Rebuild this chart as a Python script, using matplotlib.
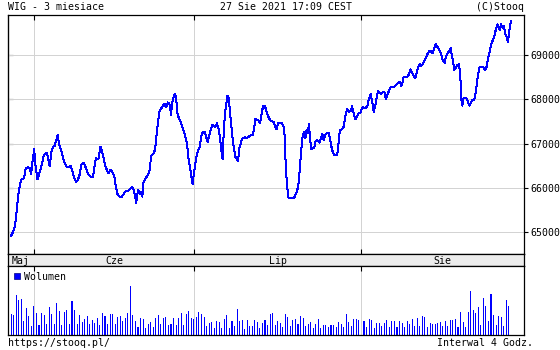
import matplotlib
matplotlib.use("Agg")
import matplotlib.pyplot as plt
from matplotlib.patches import Patch

plt.rcParams['font.family'] = ['DejaVu Sans Mono']
plt.rcParams['font.size'] = 7.1

# WIG, 4h bars, 27 May - 27 Aug 2021 (x = bar number)
line_t = [0, 0.8, 1.5, 2.0, 2.5, 3.1, 3.8, 4.3, 5.1, 5.8, 6.7, 7.4, 7.9, 8.4, 9.1, 9.6,
          10.4, 10.9, 11.5, 12.2, 12.9, 13.7, 14.2, 14.7, 15.2, 15.9, 16.5, 17.2, 17.8,
          18.4, 18.9, 19.6, 20.2, 21.0, 21.8, 22.7, 23.5, 24.1, 24.8, 25.5, 26.1, 26.9,
          27.7, 28.7, 29.5, 30.3, 31.4, 32.3, 33.0, 33.5, 34.4, 35.2, 35.8, 36.5, 37.1,
          37.8, 38.3, 39.1, 39.8, 40.7, 41.3, 42.0, 42.9, 43.7, 44.6, 45.3, 46.2, 46.9,
          47.5, 48.1, 48.7, 49.3, 50.0, 50.7, 51.2, 51.7, 52.1, 52.8, 53.4, 54.2, 54.7,
          55.1, 56.0, 56.7, 57.1, 57.8, 58.4, 59.2, 59.7, 60.4, 61.0, 61.8, 62.5, 63.0,
          63.4, 64.1, 64.6, 65.0, 65.5, 66.1, 66.9, 67.6, 68.2, 68.7, 69.3, 69.8, 70.4,
          70.9, 71.5, 72.0, 72.6, 73.1, 73.6, 74.3, 74.9, 75.6, 76.3, 76.8, 77.4, 78.1,
          78.7, 79.3, 79.8, 80.4, 81.1, 81.8, 82.4, 82.8, 83.3, 83.7, 84.1, 84.6, 85.2,
          85.8, 86.2, 86.7, 87.3, 87.8, 88.3, 88.9, 89.4, 89.9, 90.6, 91.2, 92.0, 92.8,
          93.4, 94.2, 95.2, 95.7, 96.2, 96.9, 97.5, 98.0, 98.5, 99.2, 100.0, 100.7, 101.3,
          102.0, 102.8, 103.4, 104.1, 104.6, 105.2, 106.0, 106.7, 107.4, 107.8, 108.0,
          108.4, 108.8, 109.3, 110.1, 110.9, 111.7, 112.3, 112.9, 113.4, 113.9, 114.3,
          114.8, 115.5, 115.9, 116.4, 116.9, 117.3, 117.8, 118.2, 118.9, 119.4, 119.9,
          120.5, 121.0, 121.5, 122.0, 122.6, 123.1, 123.7, 124.4, 125.2, 125.7, 126.3,
          126.8, 127.4, 128.2, 128.7, 129.1, 129.5, 130.3, 131.0, 131.4, 131.9, 132.4,
          133.1, 133.7, 134.3, 134.9, 135.6, 136.2, 136.9, 137.7, 138.2, 138.7, 139.5,
          140.3, 140.9, 141.6, 142.2, 142.8, 143.3, 143.8, 144.5, 145.2, 145.8, 146.5,
          147.1, 147.6, 148.2, 148.8, 149.5, 150.3, 150.9, 151.6, 152.2, 152.8, 153.3,
          153.7, 154.2, 154.6, 155.4, 156.0, 156.7, 157.4, 158.0, 158.5, 159.2, 159.7,
          160.4, 161.0, 161.5, 162.1, 162.7, 163.4, 164.1, 164.7, 165.4, 166.0, 166.5,
          167.3, 167.8, 168.5, 169.2, 169.7, 170.2, 170.8, 171.3, 171.9, 172.6, 173.1,
          173.6, 174.1, 174.5, 175.2, 175.7, 176.3, 176.8, 177.1, 177.3, 177.7, 178.2,
          178.9, 179.5, 180.0, 180.4, 181.0, 181.6, 182.3, 182.8, 183.4, 183.9, 184.5,
          185.2, 185.9, 186.7, 187.3, 187.8, 188.5, 189.1, 189.8, 190.4, 190.9, 191.5,
          192.0, 192.5, 193.0, 193.6, 194.1, 194.6, 195.2, 195.6, 196.0, 196.5, 196.9]
line_v = [64910, 65000, 65120, 65350, 65650, 65950, 66140, 66200, 66210, 66440, 66460, 66450,
          66310, 66570, 66870, 66520, 66190, 66270, 66400, 66550, 66740, 66780, 66780, 66630,
          66490, 66820, 66920, 66950, 67080, 67190, 66990, 66870, 66740, 66570, 66480, 66470,
          66490, 66400, 66240, 66140, 66150, 66270, 66520, 66570, 66440, 66310, 66250, 66240,
          66550, 66670, 66640, 66930, 66820, 66670, 66490, 66400, 66330, 66400, 66370, 66240,
          66010, 65840, 65790, 65800, 65880, 65930, 65930, 65980, 66010, 65980, 65840, 65660,
          65950, 65860, 65900, 65800, 66120, 66190, 66250, 66330, 66420, 66720, 66760, 66860,
          67080, 67460, 67720, 67800, 67840, 67900, 67820, 67930, 67880, 67650, 67910, 68080,
          68120, 68050, 67690, 67570, 67470, 67350, 67250, 67130, 67000, 66700, 66480, 66290,
          66080, 66330, 66550, 66740, 66830, 66930, 67160, 67270, 67260, 67160, 67040, 67190,
          67330, 67420, 67400, 67370, 67460, 67310, 67080, 66860, 66650, 67190, 67570, 67840,
          68080, 68020, 67720, 67420, 67080, 66890, 66700, 66650, 66610, 66890, 67040, 67120,
          67140, 67130, 67150, 67180, 67190, 67350, 67550, 67540, 67520, 67460, 67610, 67840,
          67840, 67720, 67610, 67530, 67500, 67490, 67380, 67320, 67470, 67470, 67460, 67380,
          67120, 66720, 66290, 65990, 65760, 65760, 65760, 65790, 65880, 65990, 66180, 66590,
          66860, 67160, 67270, 67120, 67310, 67230, 67440, 67080, 66870, 66890, 66900, 67040,
          67080, 67060, 67020, 67120, 67220, 67080, 67190, 67240, 67230, 67080, 66890, 66790,
          66740, 66740, 66820, 67120, 67310, 67320, 67380, 67530, 67700, 67780, 67720, 67730,
          67840, 67690, 67550, 67610, 67690, 67700, 67800, 67820, 67800, 67850, 68000, 68120,
          67950, 67720, 67820, 67980, 68190, 68150, 68130, 68170, 68150, 68000, 68100, 68190,
          68270, 68270, 68290, 68330, 68360, 68400, 68380, 68300, 68400, 68500, 68500, 68510,
          68570, 68680, 68600, 68530, 68480, 68600, 68740, 68800, 68750, 68800, 68860, 68940,
          69040, 69090, 69090, 69040, 69140, 69250, 69200, 69140, 69060, 68940, 68860, 68830,
          68980, 69050, 69090, 69160, 68980, 68860, 68670, 68710, 68770, 68800, 68640, 68320,
          68020, 67860, 68020, 68030, 68020, 67930, 67860, 67910, 67990, 67980, 68100, 68330,
          68570, 68720, 68740, 68730, 68670, 68740, 68930, 69090, 69240, 69350, 69450, 69580,
          69700, 69640, 69560, 69700, 69610, 69670, 69490, 69410, 69300, 69450, 69670, 69770]

# volume per bar (arbitrary units)
vol_h = [62, 60, 120, 105, 108, 42, 80, 57, 27, 87,
         67, 30, 67, 60, 34, 84, 64, 34, 96, 72,
         30, 70, 75, 33, 102, 74, 32, 59, 40, 48,
         57, 32, 44, 37, 52, 30, 65, 57, 32, 62,
         62, 32, 55, 57, 42, 52, 65, 147, 60, 42,
         24, 50, 48, 20, 32, 39, 24, 52, 60, 34,
         50, 54, 30, 34, 50, 30, 50, 65, 30, 62,
         72, 50, 47, 54, 69, 64, 54, 27, 36, 39,
         20, 41, 40, 22, 47, 60, 20, 42, 27, 78,
         42, 44, 18, 44, 27, 26, 44, 38, 22, 36,
         44, 30, 64, 67, 30, 42,
         37, 24, 64, 54, 27, 45, 47, 32, 57, 50,
         27, 34, 40, 20, 34, 48, 20, 30, 30, 24,
         30, 30, 24, 39, 34, 24, 63, 39, 27, 47,
         47, 44, 42, 42, 24, 48, 46, 20, 35, 37,
         27, 36, 45, 24, 42, 42, 24, 42, 35, 24,
         42, 34, 47, 27, 50, 27, 57, 55, 24, 36,
         34, 32, 37, 40, 27, 42, 27, 44, 45, 47,
         24, 69, 38, 24, 69, 132, 74, 65, 85, 29,
         111, 88, 42, 123, 59, 30, 56, 54, 27, 105,
         87]

month_names = ["Maj", "Cze", "Lip", "Sie"]
month_start = [9, 72, 138]
price_ticks = [65000, 66000, 67000, 68000, 69000]

x_lo, x_hi = -1.2, 202
blue = '#0000ff'
grid_c = '#d3d3d3'
px = 0.72  # one pixel in points at 100 dpi

W, H = 560, 350
fig = plt.figure(figsize=(W / 100, H / 100), dpi=100)


def box(l, t, r, b):
    return [l / W, 1 - b / H, (r - l) / W, (b - t) / H]


# price panel
ax = fig.add_axes(box(8, 15, 524, 254))
ax.plot(line_t, line_v, color=blue, lw=px, antialiased=False)
ax.set_xlim(x_lo, x_hi)
ax.set_ylim(64500, 69910)
ax.set_xticks(month_start)
ax.set_yticks(price_ticks)
ax.grid(True, color=grid_c, lw=px, antialiased=False)
ax.tick_params(axis='x', direction='in', top=True, bottom=True,
               labelbottom=False, length=3.5, width=0.8)
ax.tick_params(axis='y', direction='out', left=False, right=True,
               labelleft=False, labelright=True, length=3, width=0.8, pad=1.5)
sec = ax.secondary_yaxis('left')
sec.set_yticks(price_ticks)
sec.tick_params(axis='y', direction='in', length=3.5, width=0.8, labelleft=False)
for s in ax.spines.values():
    s.set_linewidth(0.9)

# month band
band = fig.add_axes(box(8, 254, 524, 266))
band.set_facecolor('#ececec')
band.set_xlim(x_lo, x_hi)
band.set_ylim(0, 1)
band.set_xticks([])
band.set_yticks([])
edges = [x_lo] + month_start + [x_hi]
for name, a, b in zip(month_names, edges[:-1], edges[1:]):
    band.text((a + b) / 2, 0.45, name, ha='center', va='center')
for s in band.spines.values():
    s.set_linewidth(0.9)

# volume panel
vax = fig.add_axes(box(8, 266, 524, 335))
vax.bar(range(len(vol_h)), vol_h, width=0.42, color=blue, antialiased=False)
vax.set_xlim(x_lo, x_hi)
vax.set_ylim(0, 207)
vax.set_xticks(month_start)
vax.set_yticks([])
vax.grid(True, axis='x', color=grid_c, lw=px, antialiased=False)
vax.tick_params(axis='x', direction='in', top=True, bottom=False,
                labelbottom=False, length=3.5, width=0.8)
for s in vax.spines.values():
    s.set_linewidth(0.9)
vax.legend(handles=[Patch(facecolor=blue, edgecolor='#000080', lw=0.5, label='Wolumen')],
           loc='upper left', bbox_to_anchor=(0.011, 0.92), frameon=False,
           handlelength=0.6, handleheight=0.6, handletextpad=0.4,
           borderpad=0, borderaxespad=0)

# header / footer
fig.text(8 / W, 1 - 7 / H, 'WIG - 3 miesiace', va='center', ha='left')
fig.text(286 / W, 1 - 7 / H, '27 Sie 2021 17:09 CEST', va='center', ha='center')
fig.text(524 / W, 1 - 7 / H, '(C)Stooq', va='center', ha='right')
fig.text(8 / W, 1 - 343 / H, 'https://stooq.pl/', va='center', ha='left')
fig.text(533 / W, 1 - 343 / H, 'Interwal 4 Godz.', va='center', ha='right')

fig.savefig('out.png', dpi=100)
